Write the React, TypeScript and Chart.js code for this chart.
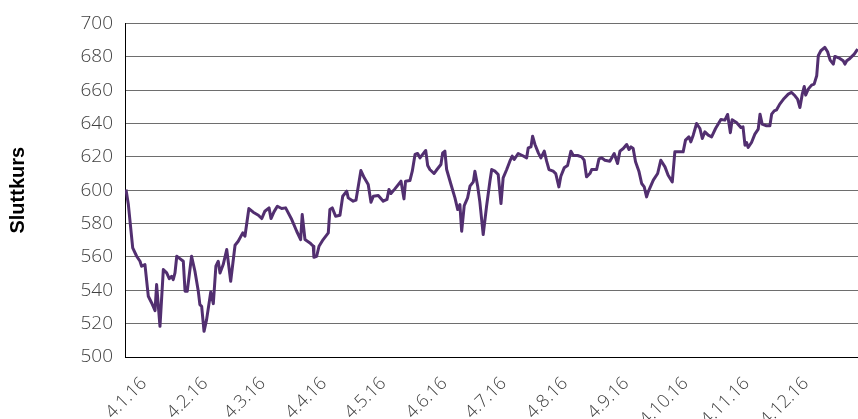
import { useEffect, useRef } from "react";
import { Chart, registerables } from "chart.js";

Chart.register(...registerables);

// Days since 4 Jan 2016 and closing prices
const dayOffsets = [
  0, 1.2, 3.4, 5.4, 7.1, 7.9, 9.6, 11.3, 13.0, 14.7,
  15.5, 17.2, 18.9, 20.6, 21.9, 23.1, 23.9, 24.8, 25.7, 27.3,
  29.0, 29.9, 31.0, 33.2, 34.9, 36.6, 37.4, 38.3, 39.5, 40.8,
  42.9, 44.2, 45.5, 46.7, 47.6, 49.2, 51.0, 53.0, 55.2, 56.8,
  59.1, 60.2, 62.2, 64.4, 67.0, 68.7, 70.3, 72.4, 73.4, 74.9,
  76.6, 78.8, 80.8, 83.9, 86.4, 88.4, 89.2, 90.6, 93.1, 94.8,
  95.1, 96.5, 97.7, 99.8, 102.4, 103.2, 104.4, 106.1, 108.3, 109.7,
  111.7, 112.5, 115.0, 116.4, 118.9, 120.6, 122.6, 124.0, 125.2, 127.7,
  130.2, 132.1, 133.1, 134.1, 136.1, 139.2, 140.7, 141.5, 143.7, 144.9,
  146.3, 147.6, 148.8, 151.7, 152.7, 153.8, 155.9, 157.4, 159.4, 160.3,
  161.4, 162.3, 164.5, 166.5, 167.9, 169.0, 169.9, 171.2, 172.9, 174.1,
  175.8, 176.6, 178.0, 179.1, 180.8, 182.5, 184.2, 185.1, 186.7, 188.4,
  189.8, 190.9, 192.7, 194.3, 195.5, 196.5, 198.5, 200.6, 202.8, 203.6,
  205.0, 205.8, 207.0, 208.7, 210.0, 211.7, 212.9, 214.1, 216.2, 217.5,
  219.1, 220.1, 221.8, 223.5, 225.2, 226.4, 228.6, 230.6, 231.9, 233.1,
  234.8, 235.7, 238.2, 239.4, 240.7, 242.4, 244.9, 247.1, 248.8, 250.0,
  251.7, 253.4, 254.6, 255.6, 256.7, 257.9, 259.6, 261.0, 262.3, 263.5,
  264.3, 266.9, 269.1, 270.7, 272.8, 274.4, 276.5, 277.8, 279.9, 282.0,
  283.2, 284.9, 285.9, 287.1, 288.8, 290.5, 291.7, 293.0, 294.7, 296.4,
  298.4, 301.1, 303.1, 304.5, 305.9, 306.8, 309.0, 311.2, 312.3, 313.3,
  314.1, 314.9, 316.6, 318.3, 320.0, 320.9, 322.0, 324.2, 325.9, 326.8,
  328.1, 329.3, 330.9, 333.1, 335.2, 336.9, 338.6, 339.9, 341.1, 342.3,
  343.3, 344.0, 345.3, 347.0, 348.3, 349.6, 350.4, 351.7, 353.7, 355.1,
  356.4, 358.0, 358.8, 361.3, 363.0, 363.9, 364.8, 366.4, 368.6, 370.3,
];

const prices = [
  600.4, 591.4, 565.4, 560.4, 557.4, 554.4, 555.4, 536.4, 532.4, 527.8,
  543.4, 518.4, 552.4, 550.4, 547, 548.4, 546.4, 550.4, 560.4, 559,
  557.4, 539.4, 539.4, 560.4, 551.4, 539.4, 531.4, 530.4, 515.4, 522.4,
  539, 532, 554.4, 557.4, 550.4, 555.4, 564.4, 545.4, 567, 569.4,
  574.4, 572.4, 589, 586.8, 585, 583, 587.4, 589.4, 583, 587,
  590.4, 589, 589.4, 582.4, 575.4, 570.4, 585.4, 570.4, 568.4, 566.4,
  559.8, 560.4, 566.4, 570.4, 574.4, 588.4, 589.4, 584.4, 585, 596.4,
  599.4, 595.4, 593.4, 594, 611.8, 607.4, 603.4, 592.8, 596.4, 596.8,
  593.4, 594.5, 600.4, 598, 600.8, 605.4, 594.8, 605.4, 605.8, 611.4,
  621.4, 622, 619.4, 623.8, 614.8, 612.4, 610, 612.4, 615.4, 622.4,
  623.4, 612.4, 603.4, 595.4, 588.4, 591.4, 575.4, 590.8, 595.4, 602.4,
  605, 611.4, 602.4, 593, 573.4, 590.4, 605.4, 612.4, 611.4, 609.4,
  592, 607.4, 612.4, 617.4, 620.4, 618.4, 622, 620.8, 619.4, 625.4,
  626, 632.4, 627.4, 622.4, 619.4, 623.4, 617.4, 612.4, 611.4, 610,
  602, 608.4, 613.4, 614.8, 623.4, 620.8, 620.8, 620, 618, 608,
  610, 612.4, 612.4, 618.8, 619.4, 618, 617.4, 622, 616, 623.4,
  625, 627.4, 624.4, 626, 625, 617, 611.4, 604, 602, 596,
  599, 606, 610, 618, 614, 609, 605, 623, 623, 623,
  630, 632, 629, 633, 640, 637, 631, 635, 633, 632,
  637, 642.4, 642, 645.4, 634.5, 642.2, 640.6, 637.6, 638, 627,
  628.6, 625.6, 628.6, 633.6, 636.6, 645.6, 639.6, 638.6, 638.6, 645.6,
  647.6, 648.2, 651.6, 655, 657.6, 658.6, 656.6, 654.6, 649.6, 657.6,
  662.2, 657, 660.6, 663, 663.6, 668.6, 680.6, 683.6, 685.6, 683,
  678, 675.6, 680.2, 679, 677.6, 675.6, 677.6, 679, 681.6, 684.6,
];

const tickDays = [0, 31, 60, 91, 121, 152, 182, 213, 244, 274, 305, 335];
const tickLabels = [
  "4.1.16", "4.2.16", "4.3.16", "4.4.16", "4.5.16", "4.6.16",
  "4.7.16", "4.8.16", "4.9.16", "4.10.16", "4.11.16", "4.12.16",
];

const yMin = 500;
const yMax = 700;
const yStep = 20;
const yTitle = "Sluttkurs";

const tickFont = { family: "'Open Sans', 'Liberation Sans', sans-serif", size: 19, weight: "300" as any };

export default function App() {
  const ref = useRef<HTMLCanvasElement>(null);

  useEffect(() => {
    const chart = new Chart(ref.current!, {
      type: "line",
      data: {
        datasets: [
          {
            data: dayOffsets.map((d, i) => ({ x: d, y: prices[i] })),
            borderColor: "#522f70",
            borderWidth: 3,
            pointRadius: 0,
            tension: 0,
            fill: false,
            borderJoinStyle: "round",
          },
        ],
      },
      options: {
        responsive: false,
        animation: false,
        devicePixelRatio: 1,
        layout: { padding: { top: 20, right: 0, left: 0, bottom: 0 } },
        plugins: { legend: { display: false }, tooltip: { enabled: false } },
        scales: {
          x: {
            type: "linear",
            min: -0.5,
            max: 370.5,
            afterBuildTicks: (s: any) => {
              s.ticks = tickDays.map((v) => ({ value: v }));
            },
            afterFit: (s: any) => {
              s.height = 62;
            },
            grid: { display: false, drawTicks: false },
            border: { display: true, color: "#000", width: 1 },
            ticks: {
              autoSkip: false,
              minRotation: 45,
              maxRotation: 45,
              labelOffset: 18,
              padding: 16,
              color: "#404040",
              font: { ...tickFont, size: 18 },
              callback: (v: any) => {
                const i = tickDays.indexOf(Number(v));
                return i >= 0 ? tickLabels[i] : "";
              },
            },
          },
          y: {
            min: yMin,
            max: yMax,
            afterFit: (s: any) => {
              s.width = 125;
            },
            grid: { color: "#6e6e6e", drawTicks: false },
            border: { display: true, color: "#000", width: 1 },
            ticks: { stepSize: yStep, padding: 12, color: "#404040", font: tickFont },
            title: {
              display: true,
              text: yTitle,
              color: "#000",
              font: { family: "'Liberation Sans', Arial, sans-serif", size: 20, weight: "bold" },
              padding: { top: 6, bottom: 0 },
            },
          },
        },
      },
    });
    return () => chart.destroy();
  }, []);

  return (
    <div style={{ position: "absolute", left: 0, top: 0, width: 858, height: 419, overflow: "hidden" }}>
      <canvas ref={ref} width={858} height={419} style={{ display: "block" }} />
    </div>
  );
}
